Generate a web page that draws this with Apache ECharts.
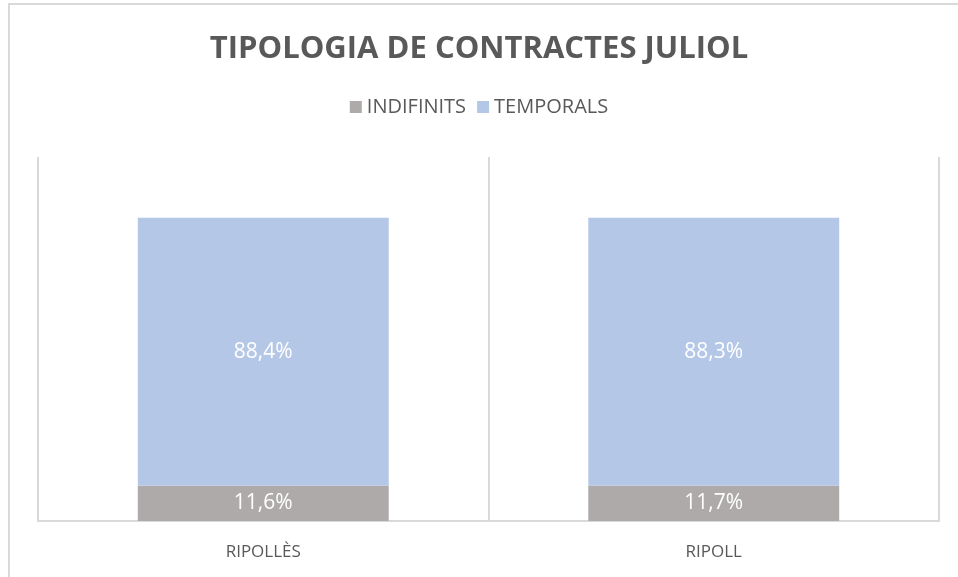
<!DOCTYPE html>
<html>
<head>
<meta charset="utf-8">
<script src="https://cdn.jsdelivr.net/npm/echarts@6/dist/echarts.min.js"></script>
<style>
	html, body { margin: 0; padding: 0; background: #fff; overflow: hidden; }
	#frame { position: absolute; left: 8px; top: 3px; width: 2000px; height: 2000px; border: 2px solid #d9d9d9; }
	#chart { position: absolute; left: 0; top: 0; width: 958px; height: 577px; }
</style>
</head>
<body>
<div id="frame"></div>
<div id="chart"></div>
<script>
var categories = ['RIPOLLÈS', 'RIPOLL'];
var indifinits = [11.6, 11.7];
var temporals = [88.4, 88.3];
var seriesNames = ['INDIFINITS', 'TEMPORALS'];
var colorList = ['#aeaaaa', '#b4c7e7'];

var chart = echarts.init(document.getElementById('chart'));

//etiquetes amb coma decimal
function pct(p) {
	return p.value.toFixed(1).replace('.', ',') + '%';
}

var labelStyle = {
	show: true,
	position: 'inside',
	color: '#fff',
	fontFamily: 'Open Sans',
	fontSize: 21,
	formatter: pct
};

var option = {
	animation: false,
	color: colorList,
	title: {
		text: 'TIPOLOGIA DE CONTRACTES JULIOL',
		left: 'center',
		top: 29,
		textStyle: {
			fontFamily: 'Open Sans',
			fontWeight: 'bold',
			fontSize: 31,
			color: '#595959'
		}
	},
	legend: {
		data: seriesNames,
		top: 92,
		left: 'center',
		icon: 'rect',
		itemWidth: 12,
		itemHeight: 12,
		itemGap: 11,
		textStyle: {
			fontFamily: 'Open Sans',
			fontSize: 20,
			color: '#595959'
		}
	},
	grid: {
		left: 38,
		right: 19,
		top: 157,
		bottom: 56
	},
	xAxis: {
		type: 'category',
		data: categories,
		axisLine: { lineStyle: { color: '#d9d9d9', width: 2 } },
		axisTick: { show: false },
		splitLine: { show: true, lineStyle: { color: '#d9d9d9', width: 2 } },
		axisLabel: {
			margin: 23,
			fontFamily: 'Open Sans',
			fontSize: 17,
			color: '#595959'
		}
	},
	yAxis: {
		type: 'value',
		min: 0,
		max: 120,
		show: false,
		splitLine: { show: false }
	},
	series: [{
		name: seriesNames[0],
		type: 'bar',
		stack: 'total',
		barWidth: '55.7%',
		data: indifinits,
		label: labelStyle
	}, {
		name: seriesNames[1],
		type: 'bar',
		stack: 'total',
		barWidth: '55.7%',
		data: temporals,
		label: labelStyle
	}]
};

chart.setOption(option);
</script>
</body>
</html>
